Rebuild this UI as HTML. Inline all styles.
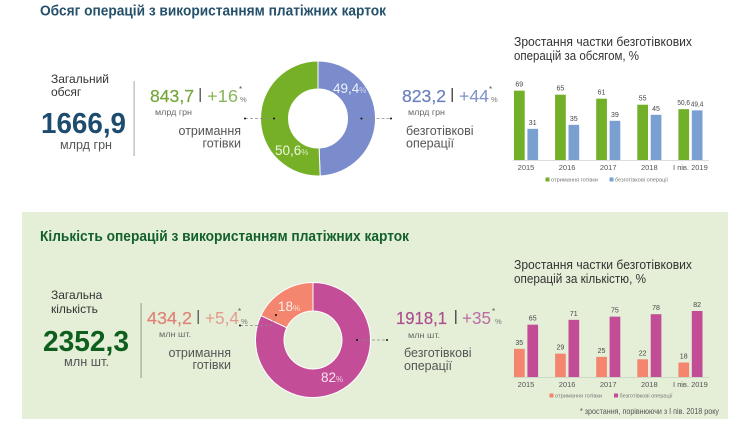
<!DOCTYPE html>
<html lang="uk">
<head>
<meta charset="utf-8">
<title>Обсяг і кількість операцій з використанням платіжних карток</title>
<style>
html,body{margin:0;padding:0;background:#fff;width:750px;height:422px;overflow:hidden}
svg{display:block;font-family:"Liberation Sans",sans-serif}
.med{font-weight:bold}
</style>
</head>
<body>
<svg id="page" width="750" height="422" viewBox="0 0 750 422" xmlns="http://www.w3.org/2000/svg">
  <rect x="0" y="0" width="750" height="422" fill="#ffffff"/>
  <rect x="22" y="212" width="706" height="207" fill="#e5efd7"/>

  <text class="med" x="40" y="15.5" font-size="14.5" fill="#24506a" textLength="346" lengthAdjust="spacingAndGlyphs">Обсяг операцій з використанням платіжних карток</text>
  <text class="med" x="40" y="241" font-size="14.5" fill="#12602a" textLength="369" lengthAdjust="spacingAndGlyphs">Кількість операцій з використанням платіжних карток</text>

  <!-- Volume summary -->
  <text font-size="12" fill="#333" x="51" y="83">Загальний</text>
  <text font-size="12" fill="#333" x="51" y="96">обсяг</text>
  <text class="med" font-size="28.5" fill="#1d4c6e" x="41" y="133" textLength="85" lengthAdjust="spacingAndGlyphs">1666,9</text>
  <text font-size="12.5" fill="#555" x="60" y="149" textLength="52" lengthAdjust="spacingAndGlyphs">млрд грн</text>
  <rect x="133.5" y="81" width="1.2" height="75" fill="#b5b5b5"/>

  <text font-size="17.7" fill="#74a63a" stroke="#74a63a" stroke-width=".2" x="150" y="102" textLength="44" lengthAdjust="spacingAndGlyphs">843,7</text>
  <rect x="199.5" y="88" width="1.5" height="14" fill="#666"/>
  <text font-size="17.7" fill="#8ab65c" x="207" y="102" textLength="31" lengthAdjust="spacingAndGlyphs">+16</text>
  <text font-size="8" fill="#555" x="239" y="92">*</text>
  <text font-size="7.5" fill="#777" x="240" y="102">%</text>
  <text font-size="8.5" fill="#666" x="155" y="115" textLength="37" lengthAdjust="spacingAndGlyphs">млрд грн</text>
  <text font-size="12.5" fill="#555" x="241" y="135" text-anchor="end">отримання</text>
  <text font-size="12.5" fill="#555" x="241" y="147.5" text-anchor="end">готівки</text>

  <text font-size="17.7" fill="#6b80bd" stroke="#6b80bd" stroke-width=".2" x="402" y="102" textLength="44" lengthAdjust="spacingAndGlyphs">823,2</text>
  <rect x="451.5" y="88" width="1.5" height="14" fill="#555"/>
  <text font-size="17.7" fill="#7f92c9" x="459" y="102" textLength="30" lengthAdjust="spacingAndGlyphs">+44</text>
  <text font-size="8" fill="#555" x="489" y="92">*</text>
  <text font-size="7.5" fill="#777" x="491" y="102">%</text>
  <text font-size="8.5" fill="#666" x="408" y="115" textLength="37" lengthAdjust="spacingAndGlyphs">млрд грн</text>
  <text font-size="12.5" fill="#555" x="406" y="135">безготівкові</text>
  <text font-size="12.5" fill="#555" x="406" y="147.5">операції</text>

  <!-- Quantity summary -->
  <text font-size="12" fill="#333" x="51" y="299">Загальна</text>
  <text font-size="12" fill="#333" x="51" y="313">кількість</text>
  <text class="med" font-size="28.5" fill="#0e5e1d" x="43" y="351" textLength="86" lengthAdjust="spacingAndGlyphs">2352,3</text>
  <text font-size="12.5" fill="#555" x="64" y="366" textLength="45" lengthAdjust="spacingAndGlyphs">млн шт.</text>
  <rect x="140.5" y="303" width="1.2" height="75" fill="#9dab94"/>

  <text font-size="17.7" fill="#df8379" stroke="#df8379" stroke-width=".2" x="147" y="324" textLength="45" lengthAdjust="spacingAndGlyphs">434,2</text>
  <rect x="197.5" y="310" width="1.5" height="14" fill="#666"/>
  <text font-size="17.7" fill="#e59a8e" x="205" y="324" textLength="34" lengthAdjust="spacingAndGlyphs">+5,4</text>
  <text font-size="8" fill="#555" x="238" y="314">*</text>
  <text font-size="7.5" fill="#777" x="241" y="324">%</text>
  <text font-size="8.5" fill="#666" x="159" y="337" textLength="32" lengthAdjust="spacingAndGlyphs">млн шт.</text>
  <text font-size="12.5" fill="#555" x="231" y="357" text-anchor="end">отримання</text>
  <text font-size="12.5" fill="#555" x="231" y="369" text-anchor="end">готівки</text>

  <text font-size="17.7" fill="#ad4e8e" stroke="#ad4e8e" stroke-width=".2" x="396" y="324" textLength="51" lengthAdjust="spacingAndGlyphs">1918,1</text>
  <rect x="455" y="310" width="1.5" height="14" fill="#555"/>
  <text font-size="17.7" fill="#bb6ba3" x="462" y="324" textLength="29" lengthAdjust="spacingAndGlyphs">+35</text>
  <text font-size="8" fill="#555" x="492" y="314">*</text>
  <text font-size="7.5" fill="#777" x="495" y="324">%</text>
  <text font-size="8.5" fill="#666" x="408" y="338" textLength="32" lengthAdjust="spacingAndGlyphs">млн шт.</text>
  <text font-size="12.5" fill="#555" x="404" y="357">безготівкові</text>
  <text font-size="12.5" fill="#555" x="404" y="370">операції</text>

  <!-- Chart titles, footnote -->
  <text font-size="12.5" fill="#333" x="514" y="46" textLength="178" lengthAdjust="spacingAndGlyphs">Зростання частки безготівкових</text>
  <text font-size="12.5" fill="#333" x="514" y="60" textLength="125" lengthAdjust="spacingAndGlyphs">операцій за обсягом, %</text>
  <text font-size="12.5" fill="#333" x="514" y="269" textLength="178" lengthAdjust="spacingAndGlyphs">Зростання частки безготівкових</text>
  <text font-size="12.5" fill="#333" x="514" y="283" textLength="132" lengthAdjust="spacingAndGlyphs">операцій за кількістю, %</text>
  <text font-size="8.5" fill="#555" x="580" y="414" textLength="139" lengthAdjust="spacingAndGlyphs">* зростання, порівнюючи з I пів. 2018 року</text>

  <g id="volume-donut"></g>
  <g id="quantity-donut"></g>
  <g id="volume-bars"></g>
  <g id="quantity-bars"></g>

  <!-- Leader lines -->
  <g stroke="#8a8a8a" stroke-width=".7" stroke-dasharray="3 2" fill="none">
    <path d="M245 118.5H274"/>
    <path d="M361.5 118.5H391"/>
    <path d="M240 325.5H271L276 315"/>
    <path d="M357 340H387"/>
  </g>
  <g fill="#111">
    <circle cx="245" cy="118.5" r="1"/>
    <circle cx="274" cy="118.5" r="1"/>
    <circle cx="361.5" cy="118.5" r="1"/>
    <circle cx="391" cy="118.5" r="1"/>
    <circle cx="240" cy="325.5" r="1"/>
    <circle cx="276" cy="315" r="1"/>
    <circle cx="357" cy="340" r="1"/>
    <circle cx="387" cy="340" r="1"/>
  </g>

  <!-- Donut slice labels -->
  <text x="333" y="93" font-size="13.5" fill="#eef0fa">49,4<tspan font-size="8" fill="#d5dbf0">%</tspan></text>
  <text x="275" y="155" font-size="13.5" fill="#eef6df">50,6<tspan font-size="8" fill="#d8ebbd">%</tspan></text>
  <text x="278" y="311" font-size="13.5" fill="#fdeee9">18<tspan font-size="8" fill="#fde0d6">%</tspan></text>
  <text x="321" y="382" font-size="13.5" fill="#f8e6f1">82<tspan font-size="8" fill="#f0cfe3">%</tspan></text>
</svg>

<script>
var years = ["2015", "2016", "2017", "2018", "I пів. 2019"];
var volumeCash = [69, 65, 61, 55, 50.6];
var volumeCashless = [31, 35, 39, 45, 49.4];
var quantityCash = [35, 29, 25, 22, 18];
var quantityCashless = [65, 71, 75, 78, 82];
var seriesNames = ["отримання готівки", "безготівкові операції"];
var volumeDonutShares = [49.4, 50.6];
var quantityDonutShares = [82, 18];

var NS = "http://www.w3.org/2000/svg";
function make(parent, tag, attrs, text) {
  var el = document.createElementNS(NS, tag);
  for (var k in attrs) el.setAttribute(k, attrs[k]);
  if (text !== undefined) el.textContent = text;
  parent.appendChild(el);
  return el;
}
function fmt(v) { return String(v).replace(".", ","); }

function drawDonut(id, shares, colors, cx, cy, outer, inner, sep) {
  var g = document.getElementById(id);
  var total = shares.reduce(function (a, b) { return a + b; }, 0);
  var start = 0;
  function pt(r, a) {
    return (cx + r * Math.sin(a)).toFixed(2) + " " + (cy - r * Math.cos(a)).toFixed(2);
  }
  shares.forEach(function (v, i) {
    var a0 = start / total * 2 * Math.PI;
    var a1 = (start + v) / total * 2 * Math.PI;
    var large = a1 - a0 > Math.PI ? 1 : 0;
    var d = "M" + pt(outer, a0) + "A" + outer + " " + outer + " 0 " + large + " 1 " + pt(outer, a1) +
            "L" + pt(inner, a1) + "A" + inner + " " + inner + " 0 " + large + " 0 " + pt(inner, a0) + "Z";
    var p = make(g, "path", { d: d, fill: colors[i], stroke: sep, "stroke-width": 1 });
    
    
    start += v;
  });
}

function drawBars(id, cash, cashless, opts) {
  var g = document.getElementById(id);
  function xGroup(i) { return opts.x0 + i * opts.step; }
  function yVal(v) { return opts.base - v * opts.scale; }
  var axis = make(g, "line", { x1: opts.x0 - 1, x2: opts.x0 + 195, y1: opts.base + .5, y2: opts.base + .5, stroke: opts.axisColor, "stroke-width": 1 });
  
  
  years.forEach(function (yr, i) {
    var x = xGroup(i);
    [[cash[i], 0, opts.c1], [cashless[i], 13.4, opts.c2]].forEach(function (s) {
      var bar = make(g, "rect", { x: x + s[1], y: yVal(s[0]), width: 10.7, height: s[0] * opts.scale, fill: s[2] });
      
      
      var text = fmt(s[0]);
      var attrs = { x: x + s[1] + 5.3, y: yVal(s[0]) - 4, "font-size": 7, "text-anchor": "middle", fill: "#444" };
      if (text.length > 2) { attrs.textLength = 12.6; attrs.lengthAdjust = "spacingAndGlyphs"; }
      var lbl = make(g, "text", attrs, text);
      
      
    });
    var tick = make(g, "text", { x: x + 12, y: opts.base + 10, "font-size": 7.5, "text-anchor": "middle", fill: "#555" }, yr);
    
    
  });
  seriesNames.forEach(function (name, i) {
    var lx = opts.legendX[i];
    var sw = make(g, "rect", { x: lx, y: opts.legendY - 2.5, width: 4, height: 4, fill: i ? opts.c2 : opts.c1 });
    
    
    var t = make(g, "text", { x: lx + 5.5, y: opts.legendY + 1.5, "font-size": 5.6, fill: "#777", textLength: i ? 53 : 47, lengthAdjust: "spacingAndGlyphs" }, name);
    
    
  });
}

drawDonut("volume-donut", volumeDonutShares, ["#7a8ccb", "#76b027"], 318, 118.5, 57.5, 29.5, "#ffffff");
drawDonut("quantity-donut", quantityDonutShares, ["#c34d97", "#f4866f"], 313, 340, 57.5, 29, "#ffffff");
drawBars("volume-bars", volumeCash, volumeCashless, { x0: 514, step: 41.1, base: 160, scale: 1.005, c1: "#72b02a", c2: "#7aa0d2", axisColor: "#dddddd", legendX: [545.5, 609.5], legendY: 180 });
drawBars("quantity-bars", quantityCash, quantityCashless, { x0: 514, step: 41.1, base: 377, scale: 0.805, c1: "#f4866f", c2: "#c24d96", axisColor: "#cfd8c4", legendX: [549.5, 614], legendY: 396 });
</script>
</body>
</html>
